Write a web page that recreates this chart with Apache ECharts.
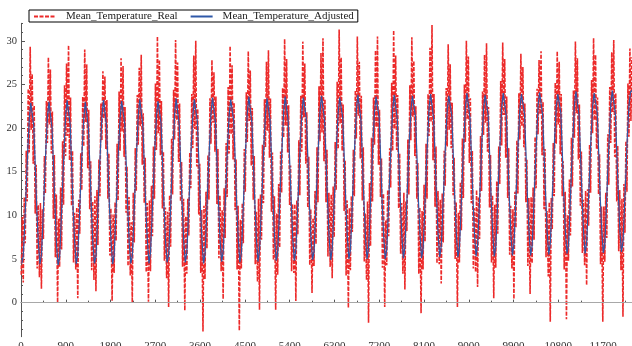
<!DOCTYPE html>
<html><head><meta charset="utf-8">
<script src="https://cdn.jsdelivr.net/npm/echarts@6/dist/echarts.min.js"></script>
<style>html,body{margin:0;padding:0;background:#fff}#c{width:632px;height:346px}</style>
</head><body><div id="c"></div>
<script>
const seriesNames = ['Mean_Temperature_Real', 'Mean_Temperature_Adjusted'];
const daysPerYear = 365.25;
const xMin = 0, xMax = 12280;
const yMin = -3.9, yMax = 32;
const xTickValues = [0, 900, 1800, 2700, 3600, 4500, 5400, 6300, 7200, 8100, 9000, 9900, 10800, 11700];
const xMinorTickValues = [450, 1350, 2250, 3150, 4050, 4950, 5850, 6750, 7650, 8550, 9450, 10350, 11250, 12150];
const yTickValues = [0, 5, 10, 15, 20, 25, 30];
const yMinorTickValues = [-3, -2, -1, 1, 2, 3, 4, 6, 7, 8, 9, 11, 12, 13, 14, 16, 17, 18, 19, 21, 22, 23, 24, 26, 27, 28, 29, 31, 32];

// day-of-year of the samples within each year
const realSampleDays = [5, 25, 45, 65, 85, 105, 125, 145, 165, 185, 205, 225, 245, 265, 285, 305, 325, 345];
const adjustedSampleDays = [15, 46, 74, 105, 135, 166, 196, 227, 258, 288, 319, 349];

const realByYear = [
[3.2, 9.8, 2.3, 12.1, 6.8, 17.4, 11.6, 24.5, 17.2, 29.3, 19.8, 26.2, 15.9, 22.6, 10.2, 15.8, 3.9, 11.2],
[2.9, 11.4, 1.6, 10.7, 7.3, 16.8, 12.5, 23.1, 18.3, 28.1, 20.4, 26.7, 17.1, 21.9, 9.6, 16.9, 5.2, 12.4],
[0.0, 9.6, 4.1, 13.2, 6.1, 18.5, 11.2, 24.9, 16.8, 27.4, 19.1, 29.5, 16.3, 23.5, 11.1, 17.4, 4.6, 10.3],
[3.8, 10.9, 0.5, 11.8, 7.9, 17.1, 12.9, 23.6, 17.9, 29.0, 20.7, 27.3, 15.4, 22.1, 10.7, 16.2, 3.7, 11.6],
[2.6, 12.2, 1.3, 12.9, 6.6, 16.4, 12.2, 22.8, 18.6, 26.5, 21.1, 25.9, 17.6, 23.2, 11.9, 17.1, 5.4, 10.8],
[0.2, 10.1, 3.4, 11.5, 7.1, 18.2, 11.7, 24.2, 17.4, 28.0, 19.6, 27.1, 16.7, 22.4, 10.3, 15.6, 4.2, 12.1],
[3.1, 9.2, 0.0, 12.6, 6.9, 17.7, 12.8, 23.8, 18.1, 26.9, 20.2, 28.4, 15.8, 21.7, 11.4, 16.6, 3.5, 11.4],
[0.1, 11.7, 3.6, 13.4, 7.6, 17.9, 11.9, 25.1, 17.5, 30.5, 19.4, 27.8, 16.9, 23.1, 10.8, 17.3, 4.8, 10.9],
[2.8, 10.4, -0.5, 12.3, 6.4, 18.8, 12.4, 24.4, 18.7, 30.1, 20.9, 27.5, 16.1, 22.8, 11.6, 16.1, 4.1, 11.9],
[-0.9, 9.9, 3.3, 11.9, 7.7, 17.2, 13.1, 23.9, 17.7, 28.3, 19.9, 30.0, 15.6, 22.2, 10.1, 15.9, 3.4, 10.6],
[-3.3, 11.1, 2.7, 12.7, 6.2, 16.9, 11.8, 23.4, 18.2, 27.8, 20.6, 26.4, 17.3, 23.6, 11.3, 17.6, 5.1, 12.3],
[3.6, 10.6, 0.4, 13.1, 7.4, 18.3, 12.1, 24.7, 17.1, 29.4, 19.3, 27.2, 16.4, 22.9, 10.6, 16.4, 3.8, 11.1],
[-3.2, 9.5, 3.9, 11.4, 6.8, 17.6, 12.7, 24.1, 18.4, 28.8, 20.8, 26.6, 15.7, 22.3, 11.8, 16.8, 4.4, 10.4],
[2.4, 11.9, -0.8, 12.4, 7.2, 18.1, 11.4, 23.3, 17.8, 27.6, 19.7, 28.9, 16.6, 23.4, 10.4, 17.2, 4.9, 12.2],
[-0.8, 10.2, 3.2, 13.6, 6.3, 17.3, 12.6, 24.6, 18.9, 30.2, 20.3, 27.9, 17.2, 22.6, 11.2, 15.7, 3.6, 11.3],
[3.4, 11.3, 0.2, 11.7, 7.8, 18.6, 12.3, 23.7, 17.3, 29.9, 21.2, 27.4, 15.9, 21.8, 10.9, 16.7, 4.3, 10.7],
[1.1, 9.7, 4.2, 12.8, 6.7, 17.8, 11.5, 24.8, 18.5, 28.6, 19.5, 30.3, 16.2, 23.3, 11.5, 17.5, 5.3, 12.6],
[4.1, 12.4, 2.8, 13.3, 7.5, 18.4, 12.9, 25.3, 17.6, 31.3, 20.5, 28.1, 17.4, 22.7, 10.5, 16.3, 3.1, 11.7],
[-0.6, 10.8, 3.7, 12.2, 8.1, 17.5, 12.2, 24.3, 18.8, 30.5, 21.4, 27.6, 16.5, 23.7, 11.7, 17.8, 4.7, 10.2],
[2.6, 11.6, -2.3, 13.7, 6.5, 18.9, 11.6, 23.5, 18.1, 28.9, 20.1, 30.5, 15.8, 22.1, 12.1, 16.5, 4.0, 12.5],
[-0.5, 9.4, 4.3, 12.9, 7.6, 17.7, 13.2, 25.2, 17.4, 31.2, 19.9, 28.3, 17.5, 23.8, 10.8, 17.1, 5.6, 11.4],
[3.3, 12.6, 1.5, 11.6, 8.2, 18.7, 12.4, 24.9, 18.6, 30.4, 21.3, 27.7, 16.8, 22.5, 11.9, 16.0, 3.3, 10.9],
[-1.2, 10.5, 3.8, 13.5, 7.0, 18.2, 11.9, 23.9, 19.1, 29.2, 20.7, 31.8, 16.3, 23.9, 11.0, 17.9, 4.5, 12.8],
[4.4, 11.8, 2.2, 12.5, 6.9, 17.4, 13.4, 24.6, 17.9, 29.6, 19.8, 27.3, 17.7, 22.9, 12.3, 16.6, 5.0, 11.5],
[-0.5, 10.3, 4.6, 13.8, 8.3, 18.8, 12.0, 25.0, 18.4, 30.0, 21.0, 28.2, 16.0, 23.4, 11.4, 17.4, 3.9, 10.8],
[3.5, 12.9, 1.8, 12.1, 7.3, 19.1, 12.8, 24.2, 19.2, 28.4, 20.6, 29.7, 17.3, 22.4, 10.9, 16.9, 4.6, 12.3],
[0.5, 11.2, 4.0, 13.9, 7.9, 17.9, 13.6, 25.4, 18.0, 29.8, 21.5, 27.9, 16.6, 23.6, 12.0, 17.7, 5.5, 11.1],
[3.9, 10.7, 0.4, 12.7, 8.6, 18.6, 12.5, 24.0, 18.7, 28.5, 20.2, 27.0, 17.8, 22.8, 11.5, 16.4, 4.2, 12.0],
[1.0, 12.1, 4.5, 13.2, 7.2, 19.0, 13.1, 24.5, 19.3, 27.8, 21.6, 28.8, 16.9, 23.0, 10.7, 17.6, 5.2, 10.5],
[3.0, 11.5, -2.2, 12.0, 8.4, 18.3, 12.2, 25.2, 18.2, 28.8, 20.4, 27.6, 17.0, 23.9, 12.2, 16.2, 3.8, 12.7],
[-1.9, 10.0, 4.8, 14.1, 7.7, 18.9, 13.3, 24.3, 18.9, 29.9, 21.7, 28.0, 16.4, 22.7, 11.1, 17.3, 5.7, 11.8],
[4.3, 12.8, 2.0, 13.0, 8.8, 18.1, 12.6, 25.5, 19.4, 30.3, 20.9, 28.4, 17.6, 23.5, 12.4, 17.0, 4.4, 11.0],
[-2.2, 11.0, 4.7, 12.6, 7.4, 19.3, 13.5, 24.7, 18.3, 28.7, 21.8, 30.1, 16.7, 24.0, 11.6, 18.0, 5.9, 12.9],
[3.7, 11.9, -1.6, 13.6, 8.0, 18.5, 12.7, 25.1, 19.0, 29.1, 20.8, 28.1]
];

const adjustedByYear = [
[4.5, 5.4, 8.8, 13.2, 17.4, 21.0, 22.9, 23.1, 20.2, 15.4, 10.5, 6.8],
[4.4, 5.5, 9.1, 13.6, 17.7, 21.2, 23.0, 23.2, 20.0, 15.7, 10.8, 6.6],
[4.3, 5.2, 8.9, 13.4, 17.5, 21.3, 23.2, 23.0, 20.4, 15.5, 10.4, 6.9],
[4.4, 5.6, 9.2, 13.7, 17.8, 21.1, 23.0, 23.2, 20.1, 15.8, 10.7, 6.7],
[4.5, 5.3, 9.0, 13.5, 17.6, 21.4, 23.2, 23.1, 20.3, 15.6, 10.6, 7.0],
[4.4, 5.5, 9.3, 13.3, 17.9, 21.2, 23.1, 23.3, 20.5, 15.9, 10.9, 6.8],
[4.5, 5.4, 9.1, 13.8, 17.7, 21.5, 23.3, 23.2, 20.2, 15.5, 10.5, 7.1],
[4.5, 5.7, 9.4, 13.6, 18.0, 21.3, 23.1, 23.3, 20.6, 16.0, 10.8, 6.9],
[4.6, 5.5, 9.2, 13.9, 17.8, 21.6, 23.4, 23.3, 20.4, 15.7, 11.0, 7.0],
[4.6, 5.8, 9.5, 13.7, 18.1, 21.4, 23.3, 23.5, 20.7, 16.1, 10.9, 7.2],
[4.5, 5.6, 9.3, 14.0, 17.9, 21.7, 23.5, 23.4, 20.5, 15.8, 11.1, 7.1],
[4.7, 5.9, 9.6, 13.8, 18.2, 21.5, 23.3, 23.5, 20.8, 16.2, 11.0, 7.3],
[4.6, 5.7, 9.4, 14.1, 18.0, 21.8, 23.6, 23.5, 20.6, 15.9, 11.2, 7.2],
[4.7, 6.0, 9.7, 13.9, 18.3, 21.6, 23.4, 23.6, 20.9, 16.3, 11.1, 7.4],
[4.8, 5.8, 9.5, 14.2, 18.1, 21.9, 23.6, 23.5, 20.7, 16.0, 11.3, 7.3],
[4.8, 6.1, 9.8, 14.0, 18.4, 21.7, 23.5, 23.7, 21.0, 16.4, 11.2, 7.5],
[4.9, 5.9, 9.6, 14.3, 18.2, 22.0, 23.7, 23.6, 20.8, 16.1, 11.4, 7.4],
[4.9, 6.2, 9.9, 14.1, 18.5, 21.8, 23.5, 23.7, 21.1, 16.5, 11.3, 7.6],
[5.0, 6.0, 9.7, 14.4, 18.3, 22.1, 23.8, 23.7, 20.9, 16.2, 11.5, 7.5],
[5.0, 6.3, 10.0, 14.2, 18.6, 21.9, 23.6, 23.8, 21.2, 16.6, 11.4, 7.7],
[5.0, 6.1, 9.8, 14.5, 18.4, 22.2, 23.8, 23.7, 21.0, 16.3, 11.6, 7.6],
[5.1, 6.4, 10.1, 14.3, 18.7, 22.0, 23.7, 23.9, 21.3, 16.7, 11.5, 7.8],
[5.1, 6.2, 9.9, 14.6, 18.5, 22.3, 23.9, 23.8, 21.1, 16.4, 11.7, 7.7],
[5.2, 6.5, 10.2, 14.4, 18.8, 22.1, 23.7, 23.9, 21.4, 16.8, 11.6, 7.9],
[5.2, 6.3, 10.0, 14.7, 18.6, 22.4, 24.0, 23.9, 21.2, 16.5, 11.8, 7.8],
[5.3, 6.6, 10.3, 14.5, 18.9, 22.2, 23.8, 24.0, 21.5, 16.9, 11.7, 8.0],
[5.3, 6.4, 10.1, 14.8, 18.7, 22.5, 24.0, 23.9, 21.3, 16.6, 11.9, 7.9],
[5.4, 6.7, 10.4, 14.6, 19.0, 22.3, 23.9, 24.1, 21.6, 17.0, 11.8, 8.1],
[5.4, 6.5, 10.2, 14.9, 18.8, 22.6, 24.1, 24.0, 21.4, 16.7, 12.0, 8.0],
[5.5, 6.8, 10.5, 14.7, 19.1, 22.4, 23.9, 24.1, 21.7, 17.1, 11.9, 8.2],
[5.6, 6.6, 10.3, 15.0, 18.9, 22.7, 24.2, 24.1, 21.5, 16.8, 12.1, 8.1],
[5.6, 6.9, 10.6, 14.8, 19.2, 22.5, 24.0, 24.2, 21.8, 17.2, 12.0, 8.3],
[5.7, 6.7, 10.4, 15.1, 19.0, 22.8, 24.3, 24.2, 21.6, 16.9, 12.2, 8.2],
[5.8, 7.0, 10.7, 14.9, 19.3, 22.6, 24.1, 24.3]
];

function toPairs(byYear, sampleDays) {
  const out = [];
  byYear.forEach((row, k) => row.forEach((v, j) => out.push([k * daysPerYear + sampleDays[j], v])));
  return out;
}
const realData = toPairs(realByYear, realSampleDays);
const adjustedData = toPairs(adjustedByYear, adjustedSampleDays);

const FONT = 'Liberation Serif';
const axisColor = '#555';
const chart = echarts.init(document.getElementById('c'), null, {renderer: 'canvas'});
chart.setOption({
  animation: false,
  backgroundColor: '#fff',
  grid: {left: 21, right: 0, top: 23.3, bottom: 9.3, containLabel: false, outerBoundsMode: 'none'},
  legend: {
    left: 29, top: 10,
    padding: [1, 4, 0, 4],
    itemGap: 12, itemWidth: 22, itemHeight: 10,
    borderColor: '#000', borderWidth: 1,
    itemStyle: {opacity: 0},
    textStyle: {fontFamily: FONT, fontSize: 11, color: '#222', padding: [0, 0, 0, 5]},
    data: seriesNames
  },
  xAxis: [{
    type: 'value', min: xMin, max: xMax, position: 'bottom',
    axisLine: {show: true, lineStyle: {color: axisColor, width: 1}},
    axisTick: {show: true, inside: true, length: 3, customValues: xTickValues, lineStyle: {color: axisColor}},
    axisLabel: {customValues: xTickValues, formatter: v => String(v), fontFamily: FONT, fontSize: 11, color: '#333', margin: 4},
    splitLine: {show: false}
  }, {
    type: 'value', min: xMin, max: xMax, position: 'bottom',
    axisLine: {show: false},
    axisTick: {show: true, inside: true, length: 2, customValues: xMinorTickValues, lineStyle: {color: axisColor}},
    axisLabel: {show: false},
    splitLine: {show: false}
  }],
  yAxis: [{
    type: 'value', min: yMin, max: yMax, position: 'left',
    axisLine: {show: true, lineStyle: {color: axisColor, width: 1}},
    axisTick: {show: true, inside: true, length: 4, customValues: yTickValues, lineStyle: {color: axisColor}},
    axisLabel: {customValues: yTickValues, formatter: v => String(v), fontFamily: FONT, fontSize: 10.5, color: '#333', margin: 4},
    splitLine: {show: false}
  }, {
    type: 'value', min: yMin, max: yMax, position: 'left',
    axisLine: {show: false},
    axisTick: {show: true, inside: true, length: 2, customValues: yMinorTickValues, lineStyle: {color: axisColor}},
    axisLabel: {show: false},
    splitLine: {show: false}
  }],
  series: [{
    name: seriesNames[0], type: 'line', data: realData,
    xAxisIndex: 0, yAxisIndex: 0,
    symbol: 'none', showSymbol: false,
    color: '#ec2a2a',
    lineStyle: {color: '#ec2a2a', width: 1.6, type: [4, 1.5]},
    markLine: {
      silent: true, symbol: 'none', label: {show: false},
      lineStyle: {color: '#a8a8a8', width: 1.2, type: 'solid'},
      data: [{yAxis: 0}]
    },
    z: 2
  }, {
    name: seriesNames[1], type: 'line', data: adjustedData,
    xAxisIndex: 0, yAxisIndex: 0,
    symbol: 'none', showSymbol: false,
    color: '#2f58a8',
    lineStyle: {color: '#2f58a8', width: 1.2, type: 'solid'},
    z: 3
  }]
});
</script>
</body></html>
